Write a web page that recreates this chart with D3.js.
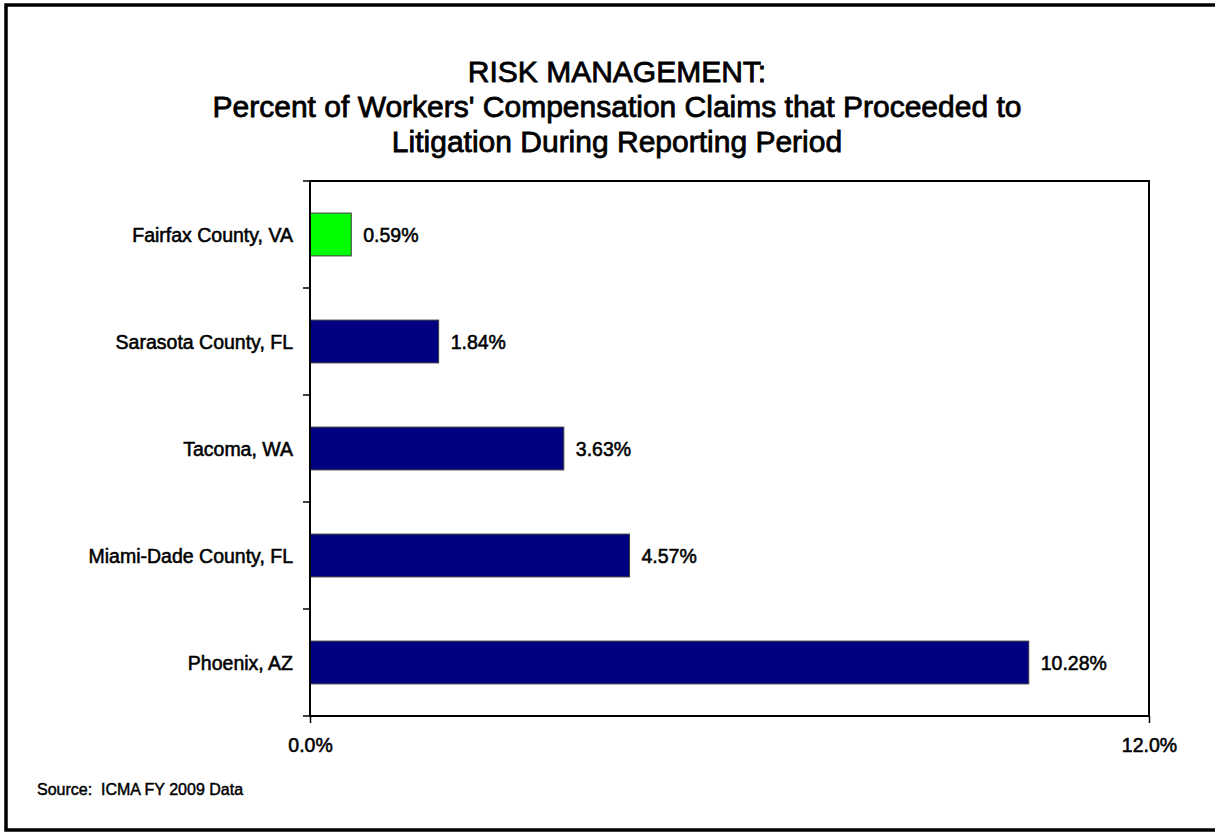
<!DOCTYPE html>
<html>
<head>
<meta charset="utf-8">
<script src="https://cdn.jsdelivr.net/npm/d3@7"></script>
<style>
    body { margin: 0; background: #fff; }
    svg { display: block; font-family: "Liberation Sans", Arial, sans-serif; }
    .medium { stroke: #000; stroke-width: 0.55px; fill: #000; }
</style>
</head>
<body>
<div id="chart"></div>
<script>
// chart data
const cities = ["Fairfax County, VA", "Sarasota County, FL", "Tacoma, WA", "Miami-Dade County, FL", "Phoenix, AZ"];
const litigationPct = [0.59, 1.84, 3.63, 4.57, 10.28];
const barColors = ["#00ff00", "#000080", "#000080", "#000080", "#000080"];
const xTicks = [0, 12];
const titleLines = ["RISK MANAGEMENT:", "Percent of Workers' Compensation Claims that Proceeded to", "Litigation During Reporting Period"];
const sourceNote = "Source:  ICMA FY 2009 Data";

renderChart();

function renderChart() {
    //Canvas + plot area
    let width = 1215, height = 832;
    let plot = {left: 310, right: 1149, top: 181, bottom: 716};

    let svg = d3.select("#chart").append("svg")
        .attr("width", width).attr("height", height);

    //Outer border
    svg.append("rect")
        .attr("x", 6).attr("y", 5)
        .attr("width", 1225).attr("height", 825)
        .attr("fill", "none").attr("stroke", "#000").attr("stroke-width", 3.5);

    //Title
    svg.append("g").selectAll("text").data(titleLines).enter().append("text")
        .attr("class", "medium")
        .attr("x", 617)
        .attr("y", (d, i) => 82 + i * 35)
        .attr("text-anchor", "middle")
        .attr("font-size", "30px")
        .style("stroke-width", "0.8px")
        .text(d => d);

    //Scales
    let x = d3.scaleLinear().domain([0, 12]).range([plot.left, plot.right]);
    let y = d3.scaleBand().domain(cities).range([plot.top, plot.bottom])
        .paddingInner(0.6).paddingOuter(0.3);

    let data = cities.map((c, i) => ({city: c, value: litigationPct[i], color: barColors[i]}));

    //Bars
    svg.append("g").selectAll("rect").data(data).enter().append("rect")
        .attr("x", x(0))
        .attr("y", d => y(d.city))
        .attr("width", d => x(d.value) - x(0))
        .attr("height", y.bandwidth())
        .attr("fill", d => d.color)
        .attr("stroke", "#3a3a3a").attr("stroke-width", 1);

    //Value labels
    svg.append("g").selectAll("text").data(data).enter().append("text")
        .attr("class", "medium")
        .attr("x", d => x(d.value) + 12)
        .attr("y", d => y(d.city) + y.bandwidth() / 2)
        .attr("dy", "0.36em")
        .attr("font-size", "19.5px")
        .text(d => d.value.toFixed(2) + "%");

    //Category labels
    svg.append("g").selectAll("text").data(cities).enter().append("text")
        .attr("class", "medium")
        .attr("x", 293)
        .attr("y", d => y(d) + y.bandwidth() / 2)
        .attr("dy", "0.36em")
        .attr("text-anchor", "end")
        .attr("font-size", "19.5px")
        .text(d => d);

    //Y tick marks between categories
    let edge = (y.step() - y.bandwidth()) / 2;
    let yTickPos = cities.map(c => y(c) - edge).concat([plot.bottom]);
    svg.append("g").selectAll("line").data(yTickPos).enter().append("line")
        .attr("x1", plot.left - 7).attr("x2", plot.left)
        .attr("y1", d => d).attr("y2", d => d)
        .attr("stroke", "#000").attr("stroke-width", 1.5);

    //X axis
    let xAxis = d3.axisBottom(x).tickValues(xTicks)
        .tickSize(7).tickPadding(15)
        .tickFormat(d => d3.format(".1f")(d) + "%");
    let xg = svg.append("g")
        .attr("transform", "translate(0," + plot.bottom + ")")
        .call(xAxis);
    xg.select(".domain").remove();
    xg.selectAll("line").attr("stroke", "#000").attr("stroke-width", 1.5);
    xg.selectAll("text")
        .attr("class", "medium")
        .attr("font-family", '"Liberation Sans", Arial, sans-serif')
        .attr("font-size", "19.5px");

    //Plot frame
    svg.append("rect")
        .attr("x", plot.left).attr("y", plot.top)
        .attr("width", plot.right - plot.left).attr("height", plot.bottom - plot.top)
        .attr("fill", "none").attr("stroke", "#000").attr("stroke-width", 2);

    //Source
    svg.append("text")
        .attr("class", "medium")
        .attr("x", 37).attr("y", 795)
        .attr("font-size", "16px")
        .style("stroke-width", "0.45px")
        .style("white-space", "pre")
        .text(sourceNote);
}
</script>
</body>
</html>
